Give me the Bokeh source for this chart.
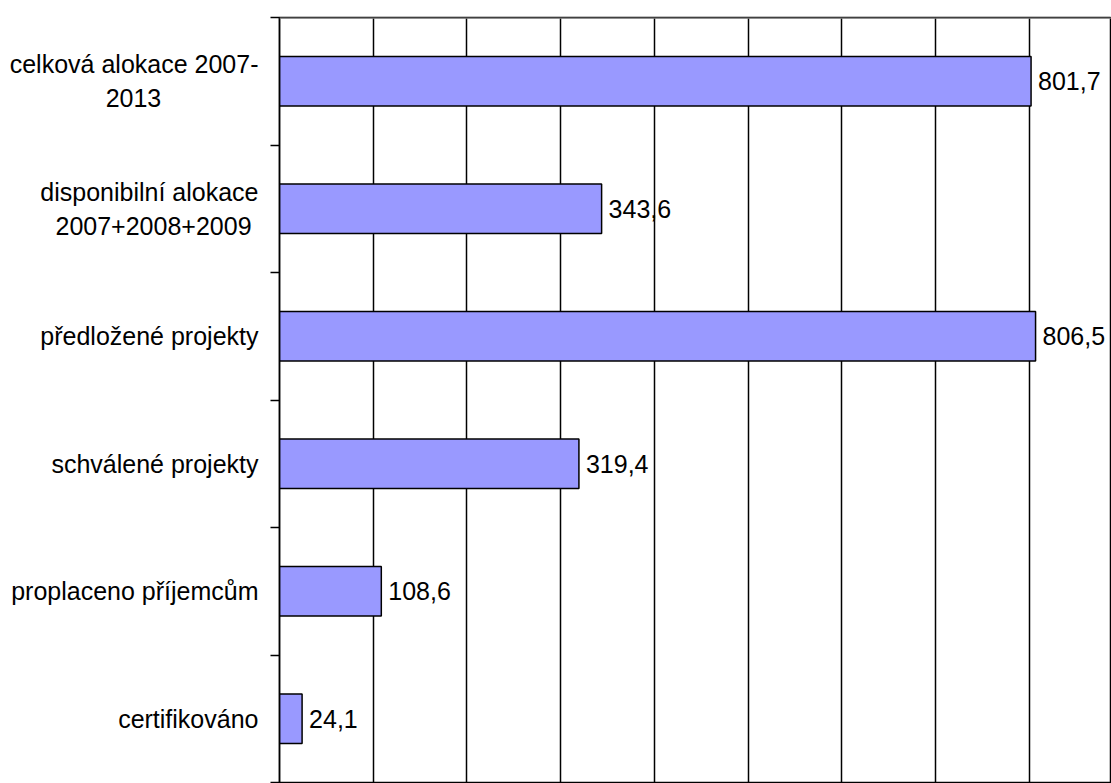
from bokeh.plotting import figure
from bokeh.models import Range1d, FixedTicker, ColumnDataSource, Span, LinearAxis
from bokeh.embed import file_html
from bokeh.resources import INLINE
from bokeh.core.properties import value

NB = "\u00a0"
categories = ["celková alokace 2007-\n2013" + NB * 14, "disponibilní alokace\n2007+2008+2009" + NB,
              "předložené projekty", "schválené projekty", "proplaceno příjemcům", "certifikováno"]
values = [801.7, 343.6, 806.5, 319.4, 108.6, 24.1]
grid_ticks = [0, 100, 200, 300, 400, 500, 600, 700, 800]

pos = list(range(len(categories)))
labels = [f"{v:.1f}".replace(".", ",") for v in values]

FONT = "Liberation Sans"

p = figure(width=1111, height=783, output_backend="svg", toolbar_location=None,
           x_range=Range1d(0, 887.5), y_range=Range1d(len(categories) - 0.5, -0.5),
           min_border_left=279, min_border_right=0, min_border_top=17, min_border_bottom=1,
           y_axis_location=None, x_axis_location=None)
p.background_fill_color = "white"
p.border_fill_color = "white"
p.outline_line_color = "black"
p.outline_line_width = 1.5

p.xgrid.ticker = FixedTicker(ticks=grid_ticks)
p.xgrid.grid_line_color = "black"
p.xgrid.grid_line_width = 1.5
p.ygrid.grid_line_color = None

yax = LinearAxis(ticker=FixedTicker(ticks=pos, minor_ticks=[i - 0.5 for i in range(len(categories) + 1)]))
yax.major_label_overrides = {i: c for i, c in zip(pos, categories)}
yax.major_tick_out = 0
yax.major_tick_in = 0
yax.minor_tick_out = 9
yax.minor_tick_in = 0
yax.minor_tick_line_color = "black"
yax.minor_tick_line_width = 1.5
yax.axis_line_color = "black"
yax.axis_line_width = 1.5
yax.major_label_text_font = FONT
yax.major_label_text_font_size = "25px"
yax.major_label_text_color = "black"
yax.major_label_standoff = 12
p.add_layout(yax, "left")

src = ColumnDataSource(dict(y=pos, v=values, lab=labels))
p.hbar(y="y", left=0, right="v", height=0.39, source=src,
       fill_color="#9999FF", line_color="black", line_width=1.5)
p.text(x="v", y="y", text="lab", source=src, x_offset=7, text_baseline="middle",
       text_align="left", text_font=value(FONT), text_font_size="25px", text_color="black")

p.add_layout(Span(location=-0.5, dimension="width", line_color="#808080", line_width=2.5))

open("out.html", "w").write(file_html(p, INLINE))
